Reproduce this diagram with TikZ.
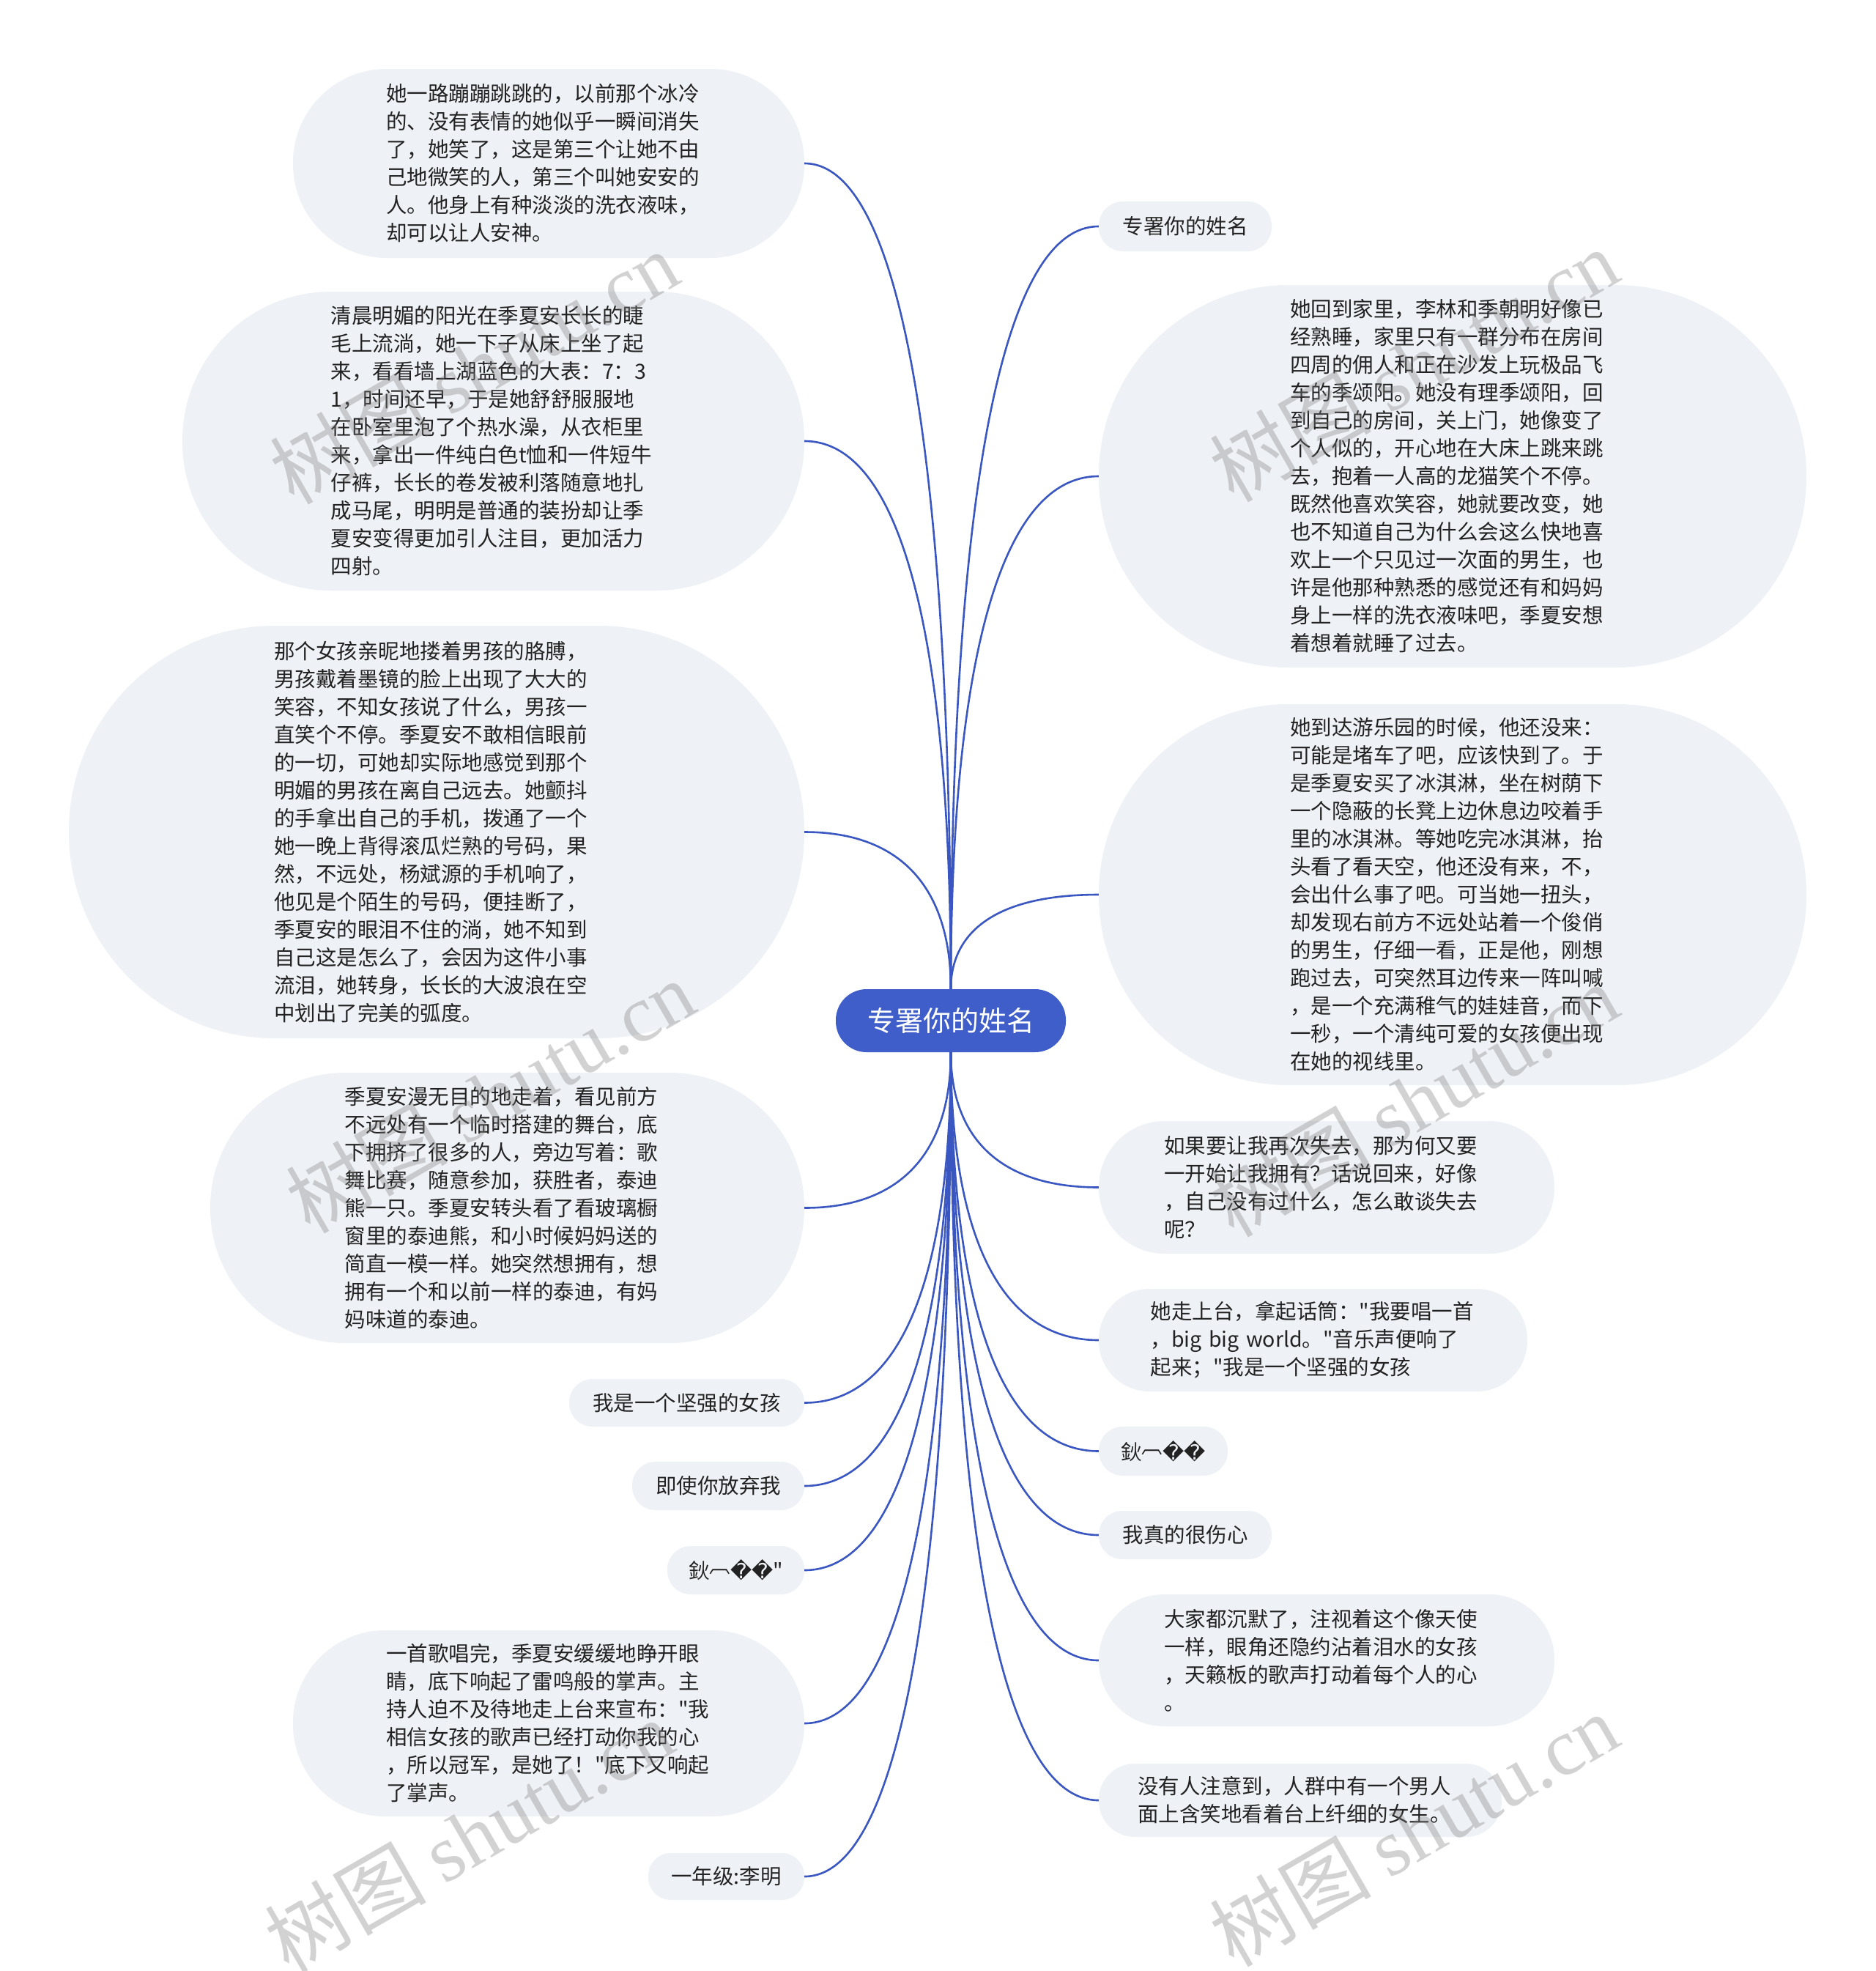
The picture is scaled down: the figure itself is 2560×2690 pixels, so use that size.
\documentclass[tikz,border=0pt]{standalone}
\usepackage{fontspec}
\setmainfont{Noto Sans CJK SC}
\newfontfamily\cjkfont{Noto Sans CJK SC}
\newfontfamily\dvfont{DejaVu Sans}
\newfontfamily\wmfont{Liberation Serif}
\usetikzlibrary{calc}
\definecolor{bubfill}{HTML}{EEF1F5}
\definecolor{cfill}{HTML}{3F5ECA}
\definecolor{lnk}{HTML}{3A56C0}
\definecolor{txt}{HTML}{222222}
\tikzset{
  bub/.style={draw=none, fill=bubfill, text=txt, align=left, inner sep=0pt,
    font=\cjkfont\fontsize{28.5}{38}\selectfont},
  para/.style={bub, text width=444pt},
  conn/.style={draw=lnk, line width=2.6pt},
  wm/.style={text=gray, opacity=0.35, rotate=30, font=\cjkfont\fontsize{110}{110}\selectfont}
}
\newcommand\mylink[2]{\draw[conn] (#1) .. controls ($(#1)!0.6!(#1 |- #2)$) and ($(#1 |- #2)!0.3!(#2)$) .. (#2);}
\newcommand\moji{鈥\raisebox{0.3em}{︹}}
\begin{document}
\begin{tikzpicture}[x=1pt,y=-1pt]
\fill[white] (0,0) rectangle (2560,2690);
\useasboundingbox (0,0) rectangle (2560,2690);

% centre
\node[fill=cfill, text=white, minimum width=314pt, minimum height=86pt, rounded corners=42pt, inner sep=0pt,
  font=\cjkfont\fontsize{38}{46}\selectfont] (c) at (1298,1393) {专署你的姓名};

% left side
\node[para, minimum width=698pt, minimum height=258pt, rounded corners=128pt] (L1) at (749,223) {%
她一路蹦蹦跳跳的，以前那个冰冷\\
的、没有表情的她似乎一瞬间消失\\
了，她笑了，这是第三个让她不由\\
己地微笑的人，第三个叫她安安的\\
人。他身上有种淡淡的洗衣液味，\\
却可以让人安神。};

\node[para, minimum width=849pt, minimum height=408pt, rounded corners=203pt] (L2) at (673.5,602) {%
清晨明媚的阳光在季夏安长长的睫\\
毛上流淌，她一下子从床上坐了起\\
来，看看墙上湖蓝色的大表：7：3\\
1，时间还早，于是她舒舒服服地\\
在卧室里泡了个热水澡，从衣柜里\\
来，拿出一件纯白色t恤和一件短牛\\
仔裤，长长的卷发被利落随意地扎\\
成马尾，明明是普通的装扮却让季\\
夏安变得更加引人注目，更加活力\\
四射。};

\node[para, minimum width=1004pt, minimum height=563pt, rounded corners=281pt] (L3) at (596,1135.5) {%
那个女孩亲昵地搂着男孩的胳膊，\\
男孩戴着墨镜的脸上出现了大大的\\
笑容，不知女孩说了什么，男孩一\\
直笑个不停。季夏安不敢相信眼前\\
的一切，可她却实际地感觉到那个\\
明媚的男孩在离自己远去。她颤抖\\
的手拿出自己的手机，拨通了一个\\
她一晚上背得滚瓜烂熟的号码，果\\
然，不远处，杨斌源的手机响了，\\
他见是个陌生的号码，便挂断了，\\
季夏安的眼泪不住的淌，她不知到\\
自己这是怎么了，会因为这件小事\\
流泪，她转身，长长的大波浪在空\\
中划出了完美的弧度。};

\node[para, minimum width=811pt, minimum height=369pt, rounded corners=184pt] (L4) at (692.5,1648.5) {%
季夏安漫无目的地走着，看见前方\\
不远处有一个临时搭建的舞台，底\\
下拥挤了很多的人，旁边写着：歌\\
舞比赛，随意参加，获胜者，泰迪\\
熊一只。季夏安转头看了看玻璃橱\\
窗里的泰迪熊，和小时候妈妈送的\\
简直一模一样。她突然想拥有，想\\
拥有一个和以前一样的泰迪，有妈\\
妈味道的泰迪。};

\node[bub, minimum width=321pt, minimum height=65pt, rounded corners=32pt] (L5) at (937.5,1914.5) {我是一个坚强的女孩};
\node[bub, minimum width=235pt, minimum height=66pt, rounded corners=32pt] (L6) at (980.5,2028) {即使你放弃我};
\node[bub, minimum width=187pt, minimum height=66pt, rounded corners=32pt] (L7) at (1004.5,2143) {\moji{\dvfont ��}"};

\node[para, minimum width=698pt, minimum height=254pt, rounded corners=126pt] (L8) at (749,2352) {%
一首歌唱完，季夏安缓缓地睁开眼\\
睛，底下响起了雷鸣般的掌声。主\\
持人迫不及待地走上台来宣布："我\\
相信女孩的歌声已经打动你我的心\\
，所以冠军，是她了！"底下又响起\\
了掌声。};

\node[bub, minimum width=213pt, minimum height=64pt, rounded corners=31pt] (L9) at (991.5,2561) {一年级:李明};

% right side
\node[bub, minimum width=236pt, minimum height=68pt, rounded corners=33pt] (R1) at (1618,309) {专署你的姓名};

\node[para, minimum width=966pt, minimum height=522pt, rounded corners=260pt] (R2) at (1983,650) {%
她回到家里，李林和季朝明好像已\\
经熟睡，家里只有一群分布在房间\\
四周的佣人和正在沙发上玩极品飞\\
车的季颂阳。她没有理季颂阳，回\\
到自己的房间，关上门，她像变了\\
个人似的，开心地在大床上跳来跳\\
去，抱着一人高的龙猫笑个不停。\\
既然他喜欢笑容，她就要改变，她\\
也不知道自己为什么会这么快地喜\\
欢上一个只见过一次面的男生，也\\
许是他那种熟悉的感觉还有和妈妈\\
身上一样的洗衣液味吧，季夏安想\\
着想着就睡了过去。};

\node[para, minimum width=966pt, minimum height=520pt, rounded corners=259pt] (R3) at (1983,1221) {%
她到达游乐园的时候，他还没来：\\
可能是堵车了吧，应该快到了。于\\
是季夏安买了冰淇淋，坐在树荫下\\
一个隐蔽的长凳上边休息边咬着手\\
里的冰淇淋。等她吃完冰淇淋，抬\\
头看了看天空，他还没有来，不，\\
会出什么事了吧。可当她一扭头，\\
却发现右前方不远处站着一个俊俏\\
的男生，仔细一看，正是他，刚想\\
跑过去，可突然耳边传来一阵叫喊\\
，是一个充满稚气的娃娃音，而下\\
一秒，一个清纯可爱的女孩便出现\\
在她的视线里。};

\node[para, minimum width=622pt, minimum height=181pt, rounded corners=90pt] (R4) at (1811,1620.5) {%
如果要让我再次失去，那为何又要\\
一开始让我拥有？话说回来，好像\\
，自己没有过什么，怎么敢谈失去\\
呢？};

\node[para, minimum width=585pt, minimum height=140pt, rounded corners=69pt] (R5) at (1792.5,1829) {%
她走上台，拿起话筒："我要唱一首\\
，big big world。"音乐声便响了\\
起来；"我是一个坚强的女孩};

\node[bub, minimum width=176pt, minimum height=67pt, rounded corners=33pt] (R6) at (1588,1980.5) {\moji{\dvfont ��}};
\node[bub, minimum width=236pt, minimum height=66pt, rounded corners=32pt] (R7) at (1618,2095) {我真的很伤心};

\node[para, minimum width=622pt, minimum height=180pt, rounded corners=89pt] (R8) at (1811,2266) {%
大家都沉默了，注视着这个像天使\\
一样，眼角还隐约沾着泪水的女孩\\
，天籁板的歌声打动着每个人的心\\
。};

\node[para, minimum width=550pt, minimum height=100pt, rounded corners=49pt] (R9) at (1775,2457) {%
没有人注意到，人群中有一个男人\\
面上含笑地看着台上纤细的女生。};

% connectors
\mylink{c.north}{L1.east}
\mylink{c.north}{L2.east}
\mylink{c.north}{L3.east}
\mylink{c.south}{L4.east}
\mylink{c.south}{L5.east}
\mylink{c.south}{L6.east}
\mylink{c.south}{L7.east}
\mylink{c.south}{L8.east}
\mylink{c.south}{L9.east}
\mylink{c.north}{R1.west}
\mylink{c.north}{R2.west}
\mylink{c.north}{R3.west}
\mylink{c.south}{R4.west}
\mylink{c.south}{R5.west}
\mylink{c.south}{R6.west}
\mylink{c.south}{R7.west}
\mylink{c.south}{R8.west}
\mylink{c.south}{R9.west}

% watermarks
\node[wm] (w1) at (647,501) {树图 {\wmfont shutu.cn}};
\node[wm] (w2) at (1930,498) {树图 {\wmfont shutu.cn}};
\node[wm] (w3) at (669,1496) {树图 {\wmfont shutu.cn}};
\node[wm] (w4) at (1930,1501) {树图 {\wmfont shutu.cn}};
\node[wm] (w5) at (640,2505) {树图 {\wmfont shutu.cn}};
\node[wm] (w6) at (1930,2497) {树图 {\wmfont shutu.cn}};
\end{tikzpicture}
\end{document}
